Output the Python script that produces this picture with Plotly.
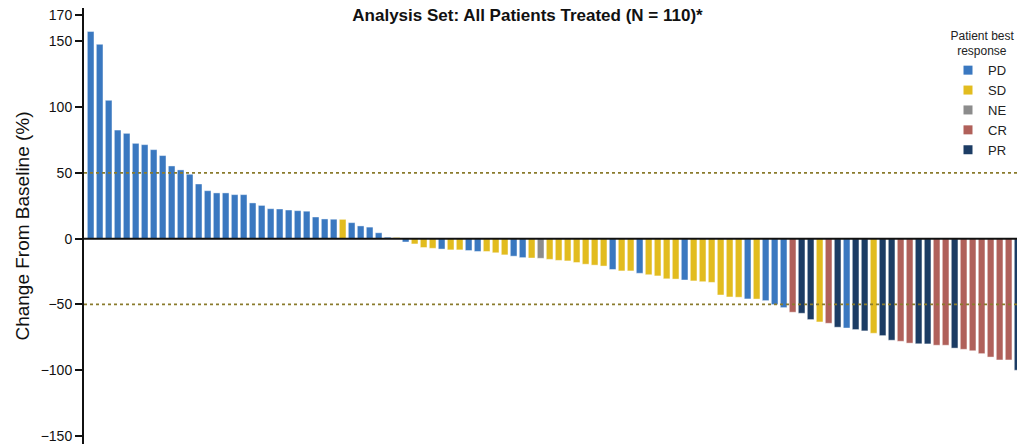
import plotly.graph_objects as go

# Best percentage change from baseline per patient, sorted (waterfall order)
pct_change = [
    157.5, 147.8, 105.2, 82.6, 80.1, 72.5, 71.5, 67.7, 63.2, 55.3,
    52.3, 49.0, 41.6, 36.5, 34.8, 34.8, 33.5, 33.5, 27.2, 25.3,
    22.8, 22.6, 21.8, 21.3, 20.9, 16.5, 15.0, 14.8, 14.7, 12.2,
    9.7, 8.8, 4.5, 1.1, 0.9, -2.5, -4.0, -6.7, -7.3, -7.9,
    -8.5, -8.5, -9.0, -9.7, -9.7, -10.7, -12.3, -13.3, -14.4, -14.7,
    -14.9, -15.7, -16.5, -16.9, -18.1, -19.4, -20.1, -20.8, -23.4, -24.5,
    -24.5, -26.3, -27.4, -28.3, -30.5, -30.7, -31.4, -32.1, -32.7, -33.2,
    -42.8, -44.3, -44.5, -45.8, -45.9, -47.1, -50.1, -52.4, -55.9, -56.7,
    -61.5, -63.3, -64.3, -67.3, -67.9, -69.1, -70.1, -71.9, -73.7, -77.2,
    -78.0, -79.4, -79.9, -80.0, -81.0, -81.0, -83.2, -84.1, -85.2, -87.4,
    -90.0, -92.2, -92.2, -100.0,
]

# Best overall response for each patient, same order
best_response = (
    ["PD"] * 28 + ["SD"] + ["PD"] * 5 + ["SD", "PD"]
    + ["SD", "SD", "SD", "PD", "SD", "SD", "PD", "PD", "SD", "SD",
       "SD", "PD", "PD", "SD", "NE", "SD", "SD", "SD", "SD", "SD",
       "SD", "SD", "PD", "SD", "SD", "PD", "SD", "SD", "SD", "SD",
       "PD", "SD", "SD", "SD", "SD", "SD", "SD", "PD", "SD", "PD",
       "PD", "PD", "CR", "PR", "PR", "SD", "CR", "PR", "PD", "PR",
       "PR", "SD", "PR", "PR", "CR", "CR", "PR", "PR", "CR", "CR",
       "PR", "CR", "CR", "CR", "CR", "CR", "CR", "PR"]
)

response_order = ["PD", "SD", "NE", "CR", "PR"]
response_colors = {
    "PD": "#3a78c0",
    "SD": "#e2bc1f",
    "NE": "#8c8c8c",
    "CR": "#b0605a",
    "PR": "#1c3c64",
}

y_ticks = [-150, -100, -50, 0, 50, 100, 150, 170]
threshold_lines = [50, -50]

FONT = "Liberation Sans, Arial, Helvetica, sans-serif"

fig = go.Figure()

patient_pos = list(range(len(pct_change)))

for resp in response_order:
    xs = [p for p, r in zip(patient_pos, best_response) if r == resp]
    ys = [v for v, r in zip(pct_change, best_response) if r == resp]
    fig.add_trace(go.Bar(
        x=xs, y=ys, name=resp,
        marker=dict(color=response_colors[resp],
                    line=dict(color="rgba(255,255,255,0.55)", width=0.8)),
        showlegend=False,
    ))
    # compact square key for the legend
    fig.add_trace(go.Scatter(
        x=[None], y=[None], mode="markers", name=resp,
        marker=dict(symbol="square", size=9, color=response_colors[resp]),
        showlegend=True,
    ))

for yv in threshold_lines:
    fig.add_shape(type="line", xref="paper", x0=0, x1=1, yref="y", y0=yv, y1=yv,
                  line=dict(color="#8a7b2c", width=1.8, dash="3px,3px"),
                  layer="above")
fig.add_shape(type="line", xref="paper", x0=0, x1=1, yref="y", y0=0, y1=0,
              line=dict(color="#111111", width=2), layer="above")

fig.update_layout(
    width=1017, height=444,
    margin=dict(l=84, r=0, t=8, b=0, autoexpand=False),
    paper_bgcolor="white", plot_bgcolor="white",
    barmode="overlay", bargap=0.26,
    font=dict(family=FONT, color="#111111"),
    title=dict(text="<b>Analysis Set: All Patients Treated (N = 110)*</b>",
               x=527.5 / 1017, xanchor="center", xref="container",
               y=1 - 15 / 444, yanchor="middle", yref="container",
               font=dict(size=17, family=FONT, color="#111111")),
    xaxis=dict(range=[-0.74, 102.93], showticklabels=False, showgrid=False,
               zeroline=False, showline=False, ticks=""),
    yaxis=dict(range=[-156.1, 175.4], tickvals=y_ticks,
               showgrid=False, zeroline=False,
               showline=True, linecolor="#111111", linewidth=2,
               ticks="outside", ticklen=7, tickwidth=1.5, tickcolor="#111111",
               tickfont=dict(size=14, family=FONT, color="#111111"),
               title=dict(text="Change From Baseline (%)", standoff=6,
                          font=dict(size=19, family=FONT, color="#111111"))),
    legend=dict(
        title=dict(text="Patient best<br>&nbsp;&nbsp;response", side="top center",
                   font=dict(size=12, family=FONT, color="#222222")),
        x=1.0, xanchor="right", y=1 - 16 / 436, yanchor="top",
        font=dict(size=13, family=FONT, color="#222222"),
        bgcolor="rgba(0,0,0,0)", itemwidth=30, tracegroupgap=0,
    ),
)

fig.write_html("out.html")
